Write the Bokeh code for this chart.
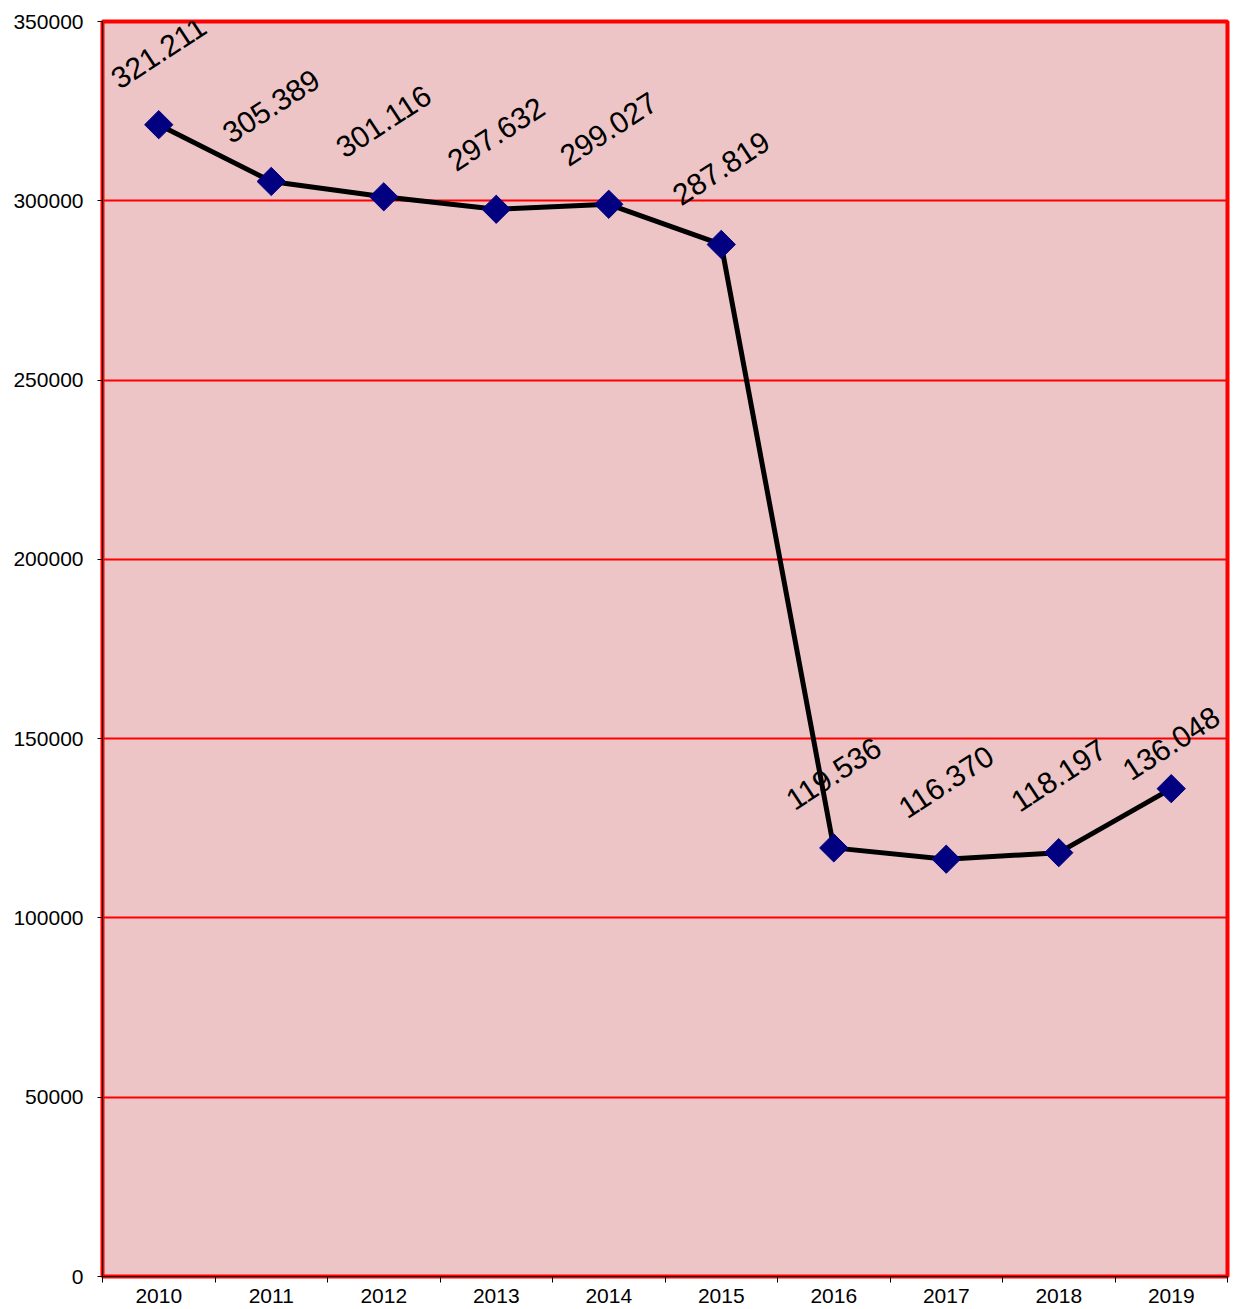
import math
from bokeh.plotting import figure
from bokeh.models import ColumnDataSource, Range1d, FixedTicker, NumeralTickFormatter, LabelSet
from bokeh.core.properties import value
from bokeh.embed import file_html
from bokeh.resources import INLINE

# ---- data ----
years = ["2010", "2011", "2012", "2013", "2014", "2015", "2016", "2017", "2018", "2019"]
values = [321211, 305389, 301116, 297632, 299027, 287819, 119536, 116370, 118197, 136048]
y_ticks = [0, 50000, 100000, 150000, 200000, 250000, 300000, 350000]

# ---- derived ----
xpos = [i + 0.5 for i in range(len(years))]
labels = [f"{v:,}".replace(",", ".") for v in values]
label_dy = [72, 75, 75, 75, 75, 76, 74, 77, 77, 45]  # style: pixel offsets

src = ColumnDataSource(dict(x=xpos, y=values, lab=labels, dy=label_dy))

FONT = "Liberation Sans"

p = figure(width=1230, height=1305, output_backend="svg", toolbar_location=None,
           x_range=Range1d(0, len(years)), y_range=Range1d(0, 350000),
           min_border_left=102, min_border_right=3, min_border_top=21, min_border_bottom=27)

p.background_fill_color = "#EDC5C6"
p.border_fill_color = "white"
p.outline_line_color = "#FF0000"
p.outline_line_width = 4

p.xgrid.visible = False
p.ygrid.grid_line_color = "#FF0000"
p.ygrid.grid_line_width = 2

# x axis: labels centred, ticks at category boundaries
p.xaxis.ticker = FixedTicker(ticks=xpos, minor_ticks=list(range(len(years) + 1)))
p.xaxis.major_label_overrides = {x: y for x, y in zip(xpos, years)}
p.xaxis.major_tick_out = 0
p.xaxis.major_tick_in = 0
p.xaxis.minor_tick_out = 6
p.xaxis.minor_tick_in = 0
p.xaxis.minor_tick_line_color = "black"
p.xaxis.major_label_standoff = 6

# y axis
p.yaxis.ticker = FixedTicker(ticks=y_ticks)
p.yaxis.formatter = NumeralTickFormatter(format="0")
p.yaxis.major_tick_out = 5
p.yaxis.major_tick_in = 0
p.yaxis.minor_tick_line_color = None
p.yaxis.major_label_standoff = 14

for ax in (p.xaxis, p.yaxis):
    ax.axis_line_color = "black"
    ax.axis_line_width = 1
    ax.major_tick_line_color = "black"
    ax.major_label_text_font = FONT
    ax.major_label_text_font_size = "21px"
    ax.major_label_text_color = "black"

p.line("x", "y", source=src, line_color="black", line_width=5)
p.scatter("x", "y", source=src, marker="square", size=20, angle=math.pi / 4,
          fill_color="#000080", line_color="#000080")

lbl = LabelSet(x="x", y="y", text="lab", source=src, y_offset="dy",
               angle=math.radians(33), text_align="center", text_baseline="middle",
               text_font=value(FONT), text_font_size=value("30px"), text_color=value("black"),
               level="overlay")
p.add_layout(lbl)

open("out.html", "w").write(file_html(p, INLINE))
